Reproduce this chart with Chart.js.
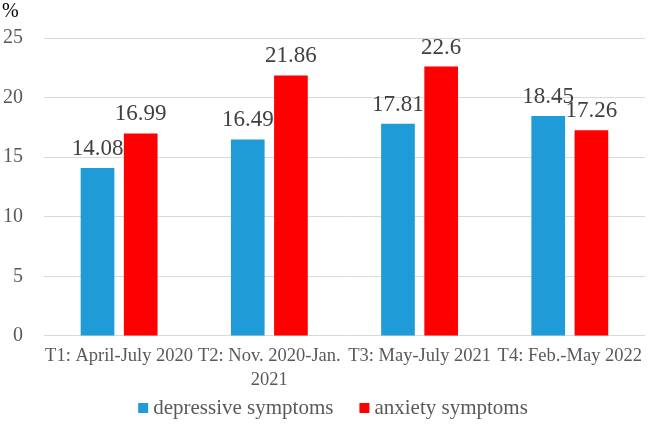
<!DOCTYPE html>
<html>
<head>
<meta charset="utf-8">
<script src="https://cdn.jsdelivr.net/npm/chart.js@4"></script>
<style>
  html, body { margin: 0; padding: 0; background: #fff; }
  #wrap { width: 650px; height: 428px; }
</style>
</head>
<body>
<div id="wrap"><canvas id="chart" width="650" height="428"></canvas></div>
<script>
const categories = [['T1: April-July 2020'], ['T2: Nov. 2020-Jan.', '2021'], ['T3: May-July 2021'], ['T4: Feb.-May 2022']];
const depressive = [14.08, 16.49, 17.81, 18.45];
const anxiety = [16.99, 21.86, 22.6, 17.26];
const yTicks = [0, 5, 10, 15, 20, 25];

const serif = '"Liberation Serif", "Times New Roman", serif';

// values above the bars, "%" unit, and a legend laid out like the original
const labelPlugin = {
  id: 'labels',
  afterDatasetsDraw(chart) {
    const ctx = chart.ctx;
    ctx.save();
    ctx.font = '23px ' + serif;
    ctx.fillStyle = '#404040';
    ctx.textAlign = 'center';
    ctx.textBaseline = 'alphabetic';
    chart.data.datasets.forEach((ds, i) => {
      chart.getDatasetMeta(i).data.forEach((bar, j) => {
        ctx.fillText(String(ds.data[j]), bar.x, bar.y - 13);
      });
    });
    ctx.font = '20px ' + serif;
    ctx.fillStyle = '#000';
    ctx.textAlign = 'left';
    ctx.textBaseline = 'middle';
    ctx.fillText('%', 2, 12);

    // legend
    ctx.font = '21px ' + serif;
    const box = 10, boxGap = 5, itemGap = 26;
    const items = chart.data.datasets.map(ds => ({ text: ds.label, color: ds.backgroundColor, w: ctx.measureText(ds.label).width }));
    const total = items.reduce((s, it) => s + box + boxGap + it.w, 0) + itemGap * (items.length - 1);
    let x = (chart.width - total) / 2 + 8;
    const y = 408;
    items.forEach(it => {
      ctx.fillStyle = it.color;
      ctx.fillRect(x, y - box / 2, box, box);
      ctx.fillStyle = '#595959';
      ctx.fillText(it.text, x + box + boxGap, y);
      x += box + boxGap + it.w + itemGap;
    });
    ctx.restore();
  }
};

new Chart(document.getElementById('chart'), {
  type: 'bar',
  data: {
    labels: categories,
    datasets: [
      { label: 'depressive symptoms', data: depressive, backgroundColor: '#1f9cd8' },
      { label: 'anxiety symptoms', data: anxiety, backgroundColor: '#ff0000' }
    ]
  },
  options: {
    responsive: false,
    animation: false,
    devicePixelRatio: 1,
    layout: { padding: { top: 38, right: 0, left: 0, bottom: 28 } },
    datasets: { bar: { categoryPercentage: 0.575, barPercentage: 0.78 } },
    plugins: {
      tooltip: { enabled: false },
      legend: { display: false }
    },
    scales: {
      x: {
        grid: { display: false, drawTicks: false },
        border: { color: '#d9d9d9', width: 1 },
        ticks: { font: { family: serif, size: 18.5, lineHeight: 1.3 }, color: '#595959', maxRotation: 0, autoSkip: false, padding: 8 }
      },
      y: {
        min: 0, max: 25,
        afterBuildTicks: axis => { axis.ticks = yTicks.map(v => ({ value: v })); },
        afterFit: axis => { axis.width = 44; },
        grid: { color: '#d9d9d9', drawTicks: false },
        border: { display: false },
        ticks: { font: { family: serif, size: 20 }, color: '#595959', padding: 21 }
      }
    }
  },
  plugins: [labelPlugin]
});
</script>
</body>
</html>
